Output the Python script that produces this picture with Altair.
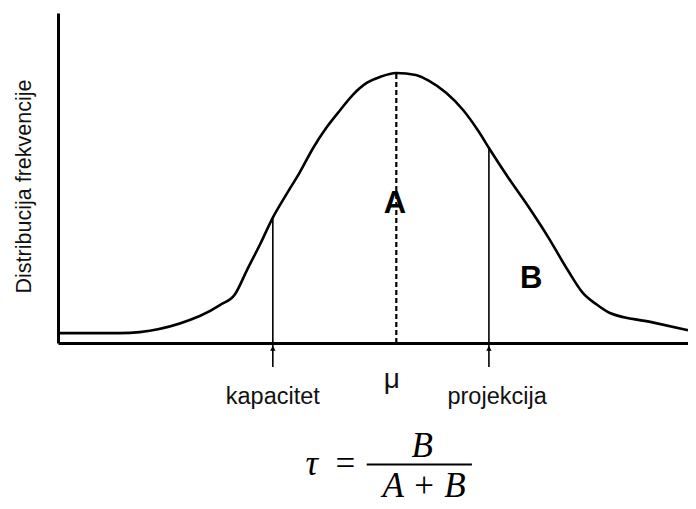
import altair as alt
import pandas as pd

# Curve (abstract units: x 0-100, y 0-100)
curve_x = [0, 9.8, 22.5, 25.7, 28.1, 30.0, 32.1, 34.1, 36.3, 38.4, 40.5, 42.7, 44.8,
           46.8, 49.0, 51.1, 53.7, 56.8, 58.9, 61.6, 64.3, 66.8, 68.4, 71.4, 74.6, 77.8,
           81.0, 83.3, 85.4, 87.6, 94.0, 100]
curve_y = [3.0, 3.0, 8.2, 11.5, 14.8, 22.1, 30.0, 38.0, 45.2, 51.8, 59.1, 65.5, 70.6,
           75.2, 78.8, 80.6, 81.8, 81.2, 79.4, 75.8, 70.6, 64.0, 59.1, 50.3, 41.5, 32.1,
           21.8, 15.2, 11.8, 9.1, 6.4, 3.9]

# Markers on the x axis
mark_names = ["kapacitet", "μ", "projekcija"]
mark_x = [34.1, 53.7, 68.4]
mark_top = [38.0, 81.8, 59.1]

# Region labels
region_labels = ["A", "B"]
region_x = [53.5, 75.1]
region_y = [39.5, 16.8]

# Texts below the axis
below_texts = ["kapacitet", "μ", "projekcija"]
below_x = [34.1, 53.0, 69.7]
below_y = [-18.5, -13.6, -18.5]
below_size = [23.5, 28, 23.5]

y_title = "Distribucija frekvencije"

xs = alt.Scale(domain=[0, 100], nice=False, zero=False)
ys = alt.Scale(domain=[0, 100], nice=False, zero=False)
xaxis = alt.Axis(title="", ticks=False, labels=False, grid=False, domainColor="black",
                 domainWidth=3)
yaxis = alt.Axis(title=y_title, ticks=False, labels=False, grid=False, domainColor="black",
                 domainWidth=3, titleFont="Liberation Sans", titleFontSize=21.5,
                 titleFontWeight="normal", titleColor="#111", titlePadding=23, titleY=173)


def X(f):
    return alt.X(f, type="quantitative", scale=xs, axis=xaxis)


def Y(f):
    return alt.Y(f, type="quantitative", scale=ys, axis=yaxis)


curve_df = pd.DataFrame({"u": curve_x, "v": curve_y})
curve = alt.Chart(curve_df).mark_line(color="black", strokeWidth=2.6,
                                      interpolate="monotone").encode(x=X("u"), y=Y("v"))

solid_df = pd.DataFrame({"u": [mark_x[0], mark_x[2]], "v": [-7.3, -7.3],
                         "v2": [mark_top[0], mark_top[2]]})
solid = alt.Chart(solid_df).mark_rule(color="black", strokeWidth=1.6).encode(
    x=X("u"), y=Y("v"), y2="v2")

arrows = alt.Chart(solid_df.assign(a=[-1.6, -1.6])).mark_point(
    shape="triangle-up", filled=True, color="black", size=30, opacity=1).encode(
    x=X("u"), y=Y("a"))

dash_df = pd.DataFrame({"u": [mark_x[1]], "v": [0], "v2": [mark_top[1]]})
dashed = alt.Chart(dash_df).mark_rule(color="black", strokeWidth=2.2,
                                      strokeDash=[5, 3]).encode(x=X("u"), y=Y("v"), y2="v2")

reg_df = pd.DataFrame({"u": region_x, "v": region_y, "t": region_labels})
regions = alt.Chart(reg_df).mark_text(font="Liberation Sans", fontWeight="bold", fontSize=31,
                                      baseline="alphabetic", align="center",
                                      color="black").encode(x=X("u"), y=Y("v"), text="t:N")

below_df = pd.DataFrame({"u": below_x, "v": below_y, "t": below_texts, "s": below_size})
below = alt.Chart(below_df).mark_text(font="Liberation Sans", baseline="alphabetic",
                                      align="center", color="#111").encode(
    x=X("u"), y=Y("v"), text="t:N", size=alt.Size("s:Q", scale=None, legend=None))

# Formula tau = B / (A + B)
f_texts = ["τ", "=", "B", "A + B"]
f_x = [40.3, 45.6, 57.8, 58.1]
f_y = [-40.0, -40.0, -34.5, -46.8]
f_style = ["italic", "normal", "italic", "italic"]
f_df = pd.DataFrame({"u": f_x, "v": f_y, "t": f_texts, "st": f_style})
f_it = alt.Chart(f_df[f_df.st == "italic"]).mark_text(
    font="Liberation Serif", fontStyle="italic", fontSize=35, baseline="alphabetic",
    align="center", color="black").encode(x=X("u"), y=Y("v"), text="t:N")
f_up = alt.Chart(f_df[f_df.st == "normal"]).mark_text(
    font="Liberation Serif", fontSize=35, baseline="alphabetic",
    align="center", color="black").encode(x=X("u"), y=Y("v"), text="t:N")
frac_df = pd.DataFrame({"u": [49.0], "u2": [65.7], "v": [-36.8]})
frac = alt.Chart(frac_df).mark_rule(color="black", strokeWidth=2).encode(
    x=X("u"), x2="u2", y=Y("v"))

chart = alt.layer(curve, solid, arrows, dashed, regions, below, f_it, f_up, frac).properties(
    width=630, height=330,
    autosize=alt.AutoSizeParams(type="none"),
    padding={"left": 50, "top": 5, "right": 0, "bottom": 163},
).configure_view(stroke=None)

chart.save("out.html", embed_options={"renderer": "svg", "actions": False})
